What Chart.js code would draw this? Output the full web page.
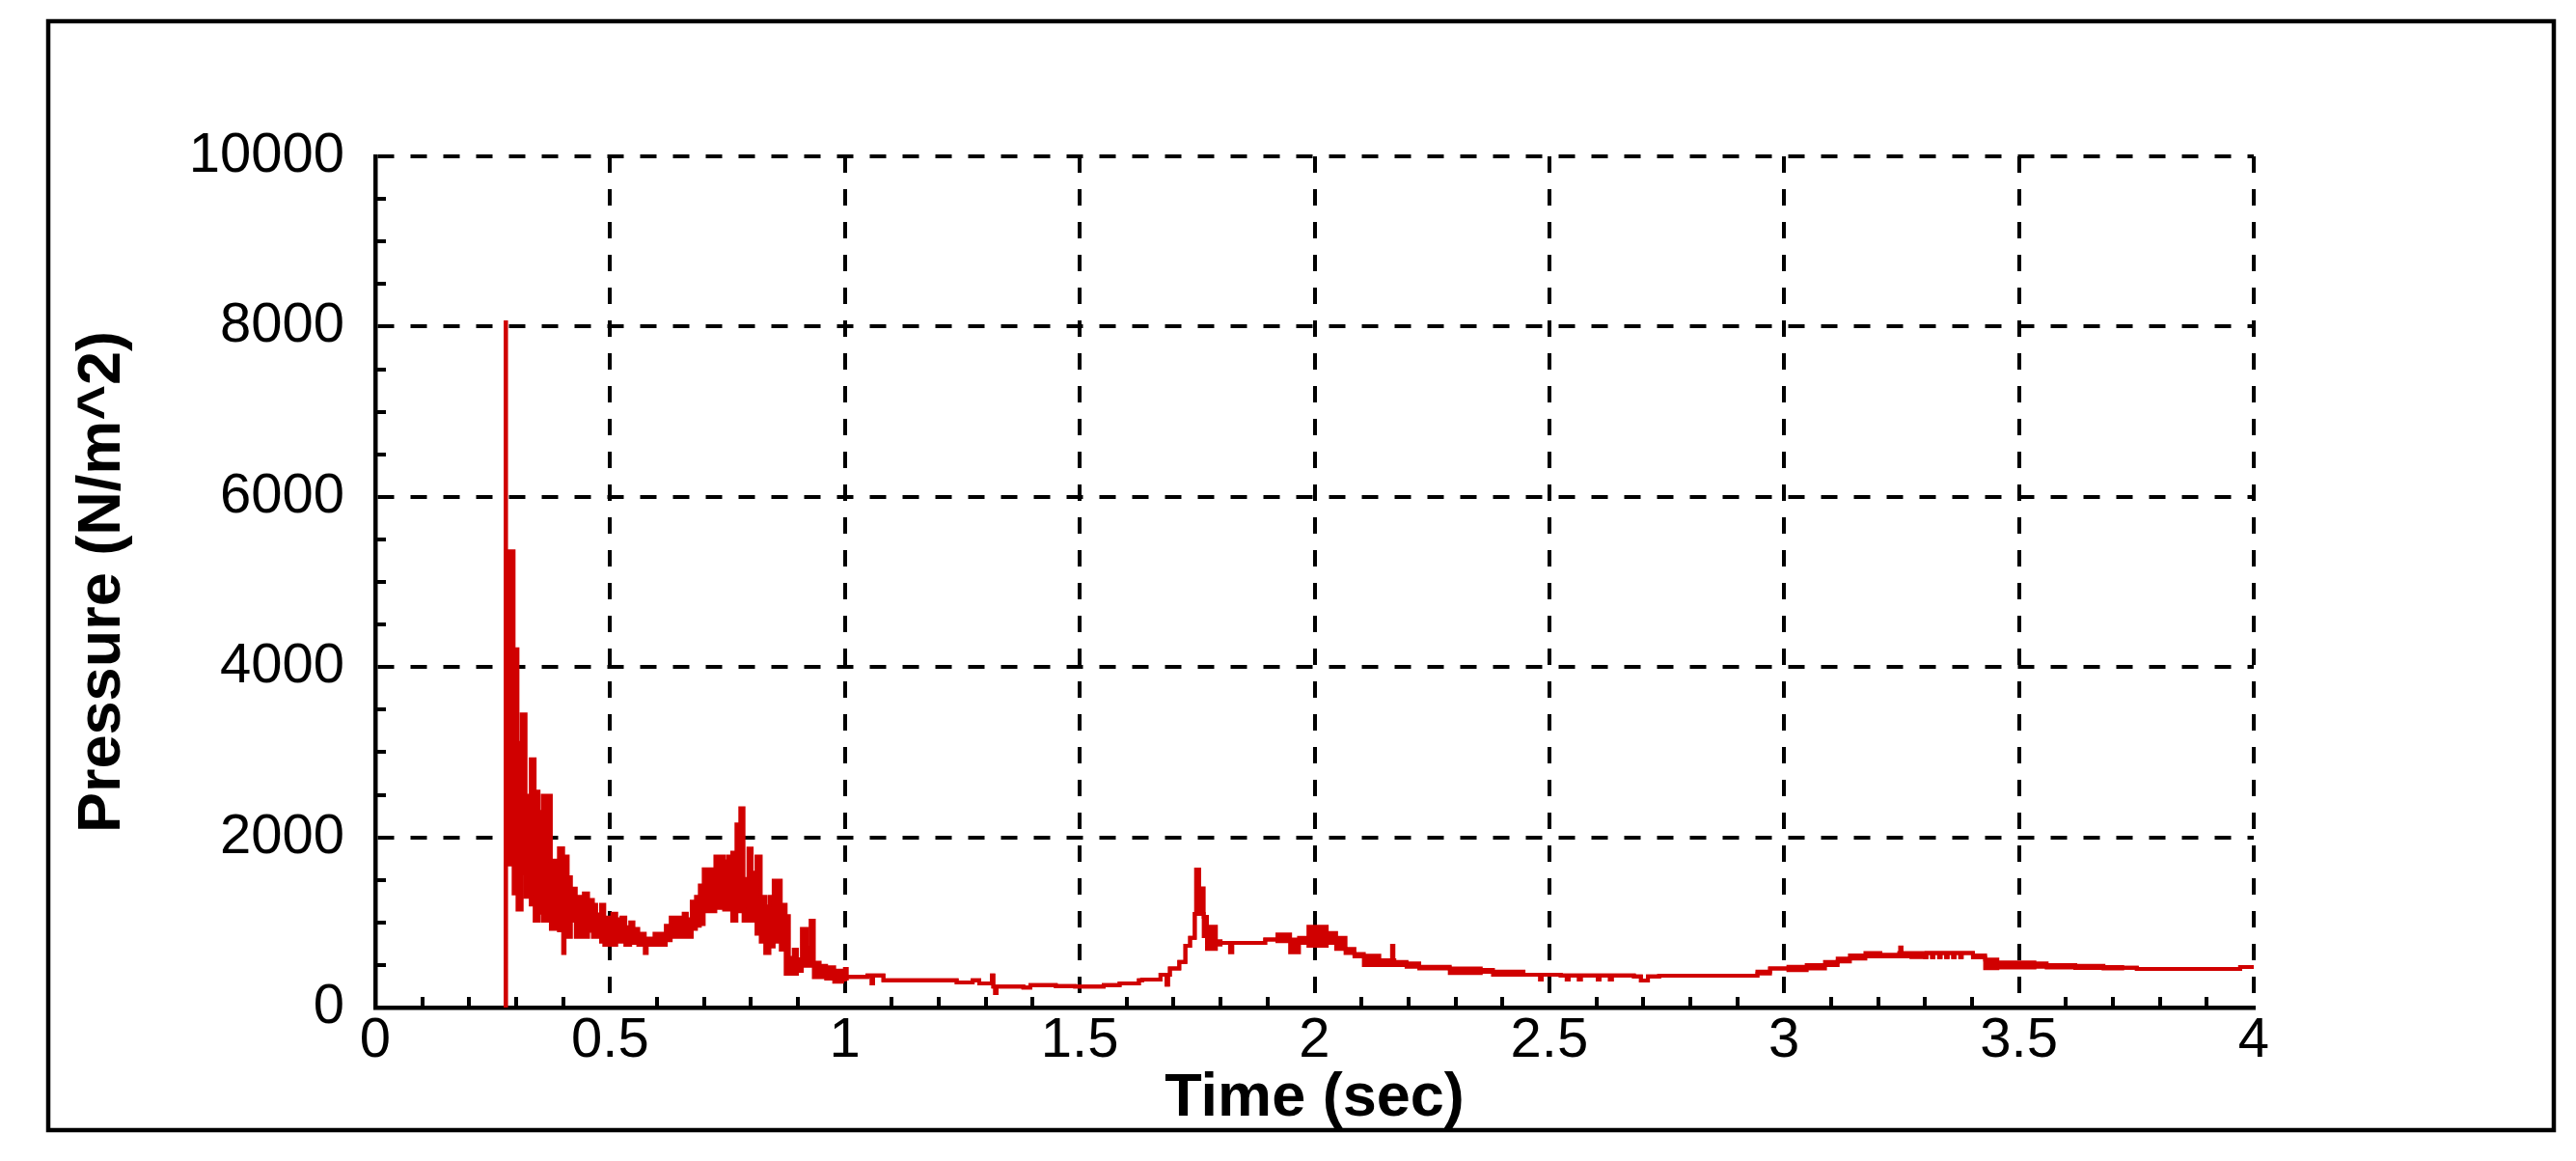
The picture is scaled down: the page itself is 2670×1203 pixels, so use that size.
<!DOCTYPE html>
<html>
<head>
<meta charset="utf-8">
<script src="https://cdn.jsdelivr.net/npm/chart.js@4.4.1/dist/chart.umd.min.js"></script>
<style>
html,body{margin:0;padding:0;background:#ffffff;overflow:hidden;}
canvas{display:block;}
</style>
</head>
<body>
<canvas id="c" width="2670" height="1203"></canvas>
<script>
// ---- data (time in s, pressure in N/m^2) ----
const times = [
  0.2770,0.2775,0.2785,0.2945,0.3028,0.3117,0.3200,0.3310,0.3393,0.3476,
  0.3566,0.3738,0.3910,0.4000,0.4030,0.4097,0.4166,0.4269,0.4441,0.4531,
  0.4634,0.4703,0.4807,0.4876,0.5048,0.5131,0.5241,0.5324,0.5428,0.5497,
  0.5600,0.5738,0.5780,0.5945,0.6186,0.6290,0.6497,0.6566,0.6634,0.6738,
  0.6828,0.6910,0.6993,0.7241,0.7428,0.7517,0.7600,0.7690,0.7772,0.7841,
  0.7945,0.8014,0.8117,0.8207,0.8303,0.8393,0.8483,0.8634,0.8738,0.8807,
  0.8910,0.8979,0.9083,0.9186,0.9269,0.9338,0.9462,0.9600,0.9772,0.9945,
  1.0000,1.0040,1.0480,1.0570,1.0600,1.0820,1.2380,1.2720,1.2860,1.3130,
  1.3160,1.3200,1.3230,1.3800,1.3950,1.4490,1.4900,1.5510,1.5850,1.6260,
  1.6330,1.6720,1.6850,1.6880,1.6920,1.7120,1.7250,1.7350,1.7450,1.7480,
  1.7540,1.7640,1.7710,1.7900,1.8000,1.8200,1.8250,1.8950,1.9210,1.9480,
  1.9670,1.9870,2.0260,2.0460,2.0660,2.0850,2.1050,2.1380,2.1650,2.1680,
  2.1700,2.1960,2.2230,2.2880,2.3540,2.3800,2.4450,2.4800,2.4840,2.5240,
  2.5370,2.5410,2.5630,2.5670,2.6030,2.6070,2.6290,2.6330,2.6800,2.6950,
  2.7100,2.7340,2.9430,2.9700,3.0090,3.0480,3.0870,3.1140,3.1400,3.1730,
  3.2050,3.2450,3.2470,3.2500,3.2710,3.3000,3.3030,3.3150,3.3180,3.3300,
  3.3330,3.3450,3.3480,3.3600,3.3630,3.3750,3.3780,3.4020,3.4280,3.4540,
  3.5330,3.5590,3.6200,3.6800,3.7200,3.7510,3.9710,4.0000
];
const upperEnvelope = [
  0,8050,5360,4210,3110,3445,2490,2917,2536,2300,
  2490,1725,1870,1775,1775,1530,1396,1300,1340,1264,
  1207,1094,1207,1057,1102,1038,1057,943,1000,925,
  868,811,811,868,962,1057,1038,1102,1038,1245,
  1300,1434,1623,1774,1717,1774,1819,2151,2340,1510,
  1868,1585,1774,1300,1189,1300,1490,1207,1075,585,
  680,566,925,698,1019,528,490,472,434,400,
  454,359,378,284,378,321,295,321,284,378,
  246,170,246,234,265,253,246,265,284,321,
  330,385,270,385,460,537,725,820,1100,1620,
  1400,1065,950,780,760,760,760,800,860,800,
  820,950,877,820,690,630,610,555,725,555,
  537,518,480,460,442,423,385,385,385,378,
  330,378,330,378,330,378,330,378,367,317,
  367,374,423,460,480,500,537,575,612,642,
  620,642,707,642,642,593,642,593,642,593,
  642,593,642,593,642,593,642,612,563,529,
  518,499,490,475,468,453,476,476
];
const lowerEnvelope = [
  0,0,1680,1340,1150,1585,1300,1210,1020,1113,
  1020,925,906,640,906,830,1020,830,830,900,
  830,830,774,736,736,774,774,736,760,760,
  736,640,736,736,792,830,830,830,830,925,
  960,981,1132,1170,1150,1150,1020,1130,1150,1020,
  1160,1020,868,774,640,717,774,680,396,396,
  396,430,490,490,490,358,358,340,302,330,
  340,359,378,284,378,321,295,321,284,378,
  246,170,246,234,265,253,246,265,284,321,
  330,385,270,385,460,537,725,820,1100,1620,
  1100,840,690,740,760,650,760,800,780,650,
  760,725,760,690,640,600,500,500,500,500,
  500,480,460,404,420,385,385,330,385,378,
  330,378,330,378,330,378,330,378,367,317,
  367,374,400,460,440,460,500,540,575,600,
  600,600,600,600,593,593,642,593,642,593,
  642,593,642,593,642,593,642,590,461,470,
  480,470,465,460,468,453,476,476
];
const xTickValues = [0, 0.5, 1, 1.5, 2, 2.5, 3, 3.5, 4];
const yTickValues = [0, 2000, 4000, 6000, 8000, 10000];
const xMinorStep = 0.1;
const yMinorStep = 500;
const xTitle = 'Time (sec)';
const yTitle = 'Pressure (N/m^2)';

const upperPts = times.map((t, i) => ({x: t, y: upperEnvelope[i]}));
const lowerPts = times.map((t, i) => ({x: t, y: lowerEnvelope[i]}));

const RED = 'rgb(208,0,0)';

const framePlugin = {
  id: 'frame',
  afterDraw(chart) {
    const ctx = chart.ctx;
    ctx.save();
    ctx.strokeStyle = '#000';
    ctx.lineWidth = 4.5;
    ctx.strokeRect(50, 22, 2597, 1149);
    ctx.restore();
  }
};

const minorTickPlugin = {
  id: 'minorTicks',
  beforeDatasetsDraw(chart) {
    const {ctx, scales: {x, y}} = chart;
    ctx.save();
    ctx.strokeStyle = '#000';
    ctx.lineWidth = 4;
    ctx.beginPath();
    const nx = Math.round((x.max - x.min) / xMinorStep);
    for (let i = 1; i < nx; i++) {
      const v = x.min + i * xMinorStep;
      if (xTickValues.some(t => Math.abs(t - v) < 1e-6)) continue;
      const px = Math.round(x.getPixelForValue(v));
      ctx.moveTo(px, y.bottom);
      ctx.lineTo(px, y.bottom - 11);
    }
    const ny = Math.round((y.max - y.min) / yMinorStep);
    for (let j = 1; j < ny; j++) {
      const v = y.min + j * yMinorStep;
      if (yTickValues.some(t => Math.abs(t - v) < 1e-6)) continue;
      const py = Math.round(y.getPixelForValue(v));
      ctx.moveTo(x.left, py);
      ctx.lineTo(x.left + 11, py);
    }
    ctx.stroke();
    ctx.restore();
  }
};

const tickFont = {family: "'Liberation Sans', Arial, sans-serif", size: 58, weight: 'normal'};
const titleFont = {family: "'Liberation Sans', Arial, sans-serif", size: 63, weight: 'bold', lineHeight: 1};

new Chart(document.getElementById('c'), {
  type: 'line',
  data: {
    datasets: [
      {
        label: 'upper',
        data: upperPts,
        borderColor: RED,
        backgroundColor: RED,
        borderWidth: 4,
        pointRadius: 0,
        stepped: true,
        fill: false,
        borderCapStyle: 'butt',
        borderJoinStyle: 'miter'
      },
      {
        label: 'lower',
        data: lowerPts,
        borderColor: RED,
        backgroundColor: RED,
        borderWidth: 4,
        pointRadius: 0,
        stepped: true,
        fill: '-1',
        borderCapStyle: 'butt',
        borderJoinStyle: 'miter'
      }
    ]
  },
  options: {
    responsive: false,
    devicePixelRatio: 1,
    animation: false,
    events: [],
    layout: {padding: {left: 0, right: 334, top: 162, bottom: 0}},
    plugins: {
      legend: {display: false},
      tooltip: {enabled: false},
      title: {display: false}
    },
    scales: {
      x: {
        type: 'linear',
        min: 0,
        max: 4,
        afterBuildTicks: (s) => { s.ticks = xTickValues.map(v => ({value: v})); },
        afterFit: (s) => { s.height = 159; },
        ticks: {
          color: '#000',
          font: tickFont,
          padding: 0,
          maxRotation: 0,
          autoSkip: false,
          callback: (v) => String(v)
        },
        grid: {
          color: '#000',
          lineWidth: 4,
          drawTicks: false
        },
        border: {display: true, color: '#000', width: 4.5, dash: [17, 17]},
        title: {display: true, text: xTitle, color: '#000', font: titleFont, padding: {top: 0, bottom: 33}}
      },
      y: {
        type: 'linear',
        min: 0,
        max: 10000,
        afterBuildTicks: (s) => { s.ticks = yTickValues.map(v => ({value: v})); },
        afterFit: (s) => { s.width = 389; },
        ticks: {
          color: '#000',
          font: tickFont,
          padding: 32,
          autoSkip: false,
          callback: (v) => String(v)
        },
        grid: {
          color: '#000',
          lineWidth: 4,
          drawTicks: false
        },
        border: {display: true, color: '#000', width: 4.5, dash: [17, 17]},
        title: {display: true, text: yTitle, color: '#000', font: titleFont, padding: {top: 75, bottom: 0}}
      }
    }
  },
  plugins: [framePlugin, minorTickPlugin]
});
</script>
</body>
</html>
